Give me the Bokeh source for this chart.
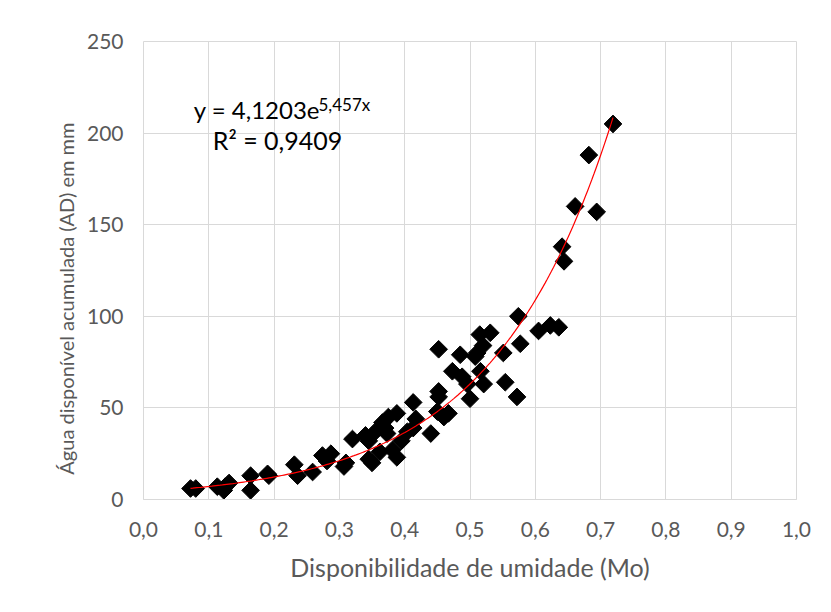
import numpy as np
from bokeh.plotting import figure
from bokeh.models import ColumnDataSource, Label, Range1d, FixedTicker, CustomJSTickFormatter
from bokeh.embed import file_html
from bokeh.resources import INLINE

# Data
mo = [0.072, 0.080, 0.113, 0.123, 0.125, 0.131, 0.164, 0.164, 0.190, 0.192,
      0.231, 0.236, 0.259, 0.274, 0.281, 0.287, 0.307, 0.310, 0.320, 0.340,
      0.345, 0.345, 0.350, 0.355, 0.366, 0.375, 0.388, 0.373, 0.381, 0.388,
      0.362, 0.370, 0.404, 0.395, 0.413, 0.417, 0.413, 0.440, 0.450, 0.452,
      0.452, 0.452, 0.467, 0.460, 0.473, 0.485, 0.488, 0.496, 0.500, 0.508,
      0.511, 0.516, 0.521, 0.515, 0.531, 0.520, 0.551, 0.554, 0.572, 0.574,
      0.577, 0.605, 0.623, 0.636, 0.641, 0.644, 0.661, 0.682, 0.694, 0.719]
ad = [6, 6, 7, 5, 7, 9, 13, 5, 14, 13,
      19, 13, 15, 24, 21, 25, 18, 20, 33, 35,
      32, 22, 20, 37, 42, 45, 47, 36, 27, 23,
      26, 39, 37, 32, 53, 44, 39, 36, 48, 59,
      56, 82, 47, 45, 70, 79, 67, 63, 55, 78,
      80, 70, 63, 90, 91, 84, 80, 64, 56, 100,
      85, 92, 95, 94, 138, 130, 160, 188, 157, 205]

# Exponential trendline coefficients (from the chart's equation)
coef_a = 4.1203
coef_b = 5.457
x_ticks = [0.0, 0.1, 0.2, 0.3, 0.4, 0.5, 0.6, 0.7, 0.8, 0.9, 1.0]
y_ticks = [0, 50, 100, 150, 200, 250]

p = figure(width=823, height=604, output_backend="svg", toolbar_location=None,
           x_range=Range1d(0, 1.0), y_range=Range1d(0, 250),
           min_border_left=143, min_border_right=27, min_border_top=41,
           min_border_bottom=105)
p.outline_line_color = "#d9d9d9"
p.background_fill_color = "white"
p.border_fill_color = "white"

font = "Lato"
tick_col = "#595959"

p.xaxis.ticker = FixedTicker(ticks=x_ticks)
p.yaxis.ticker = FixedTicker(ticks=y_ticks)
p.xaxis.formatter = CustomJSTickFormatter(code="return tick.toFixed(1).replace('.', ',');")
for ax in (p.xaxis, p.yaxis):
    ax.major_tick_out = 0
    ax.major_tick_in = 0
    ax.minor_tick_out = 0
    ax.minor_tick_in = 0
    ax.major_label_text_font = font
    ax.major_label_text_font_size = "21px"
    ax.major_label_text_color = tick_col
    ax.axis_label_text_font = font
    ax.axis_label_text_font_style = "normal"
    ax.axis_label_text_color = tick_col
p.xaxis.axis_label_text_font_size = "25px"
p.yaxis.axis_label_text_font_size = "20px"
p.xaxis.axis_line_color = "#d9d9d9"
p.yaxis.axis_line_color = None
p.xaxis.major_label_standoff = 22
p.yaxis.major_label_standoff = 20
p.xaxis.axis_label = "Disponibilidade de umidade (Mo)"
# trailing no-break spaces push the title down, as Excel places it
p.yaxis.axis_label = "Água disponível acumulada (AD) em mm" + "\u00a0" * 11
p.xaxis.axis_label_standoff = 12
p.yaxis.axis_label_standoff = 6

p.xgrid.grid_line_color = "#d9d9d9"
p.ygrid.grid_line_color = "#d9d9d9"
p.xgrid.ticker = FixedTicker(ticks=x_ticks)
p.ygrid.ticker = FixedTicker(ticks=y_ticks)

src = ColumnDataSource(dict(x=mo, y=ad))
p.scatter("x", "y", source=src, marker="square", size=12.5, angle=np.pi / 4,
          fill_color="black", line_color="black")

xf = np.linspace(min(mo), max(mo), 200)
yf = coef_a * np.exp(coef_b * xf)
p.line(xf, yf, line_color="#ff0000", line_width=1.2)

eq_style = dict(text_font=font, text_color="black", text_baseline="alphabetic")
p.add_layout(Label(x=0.077, y=213, text="y = 4,1203e", text_font_size="24px", **eq_style))
p.add_layout(Label(x=0.268, y=215.5, text="5,457x", text_font_size="17px", **eq_style))
p.add_layout(Label(x=0.106, y=196, text="R² = 0,9409", text_font_size="25px", **eq_style))

open("out.html", "w").write(file_html(p, INLINE))
